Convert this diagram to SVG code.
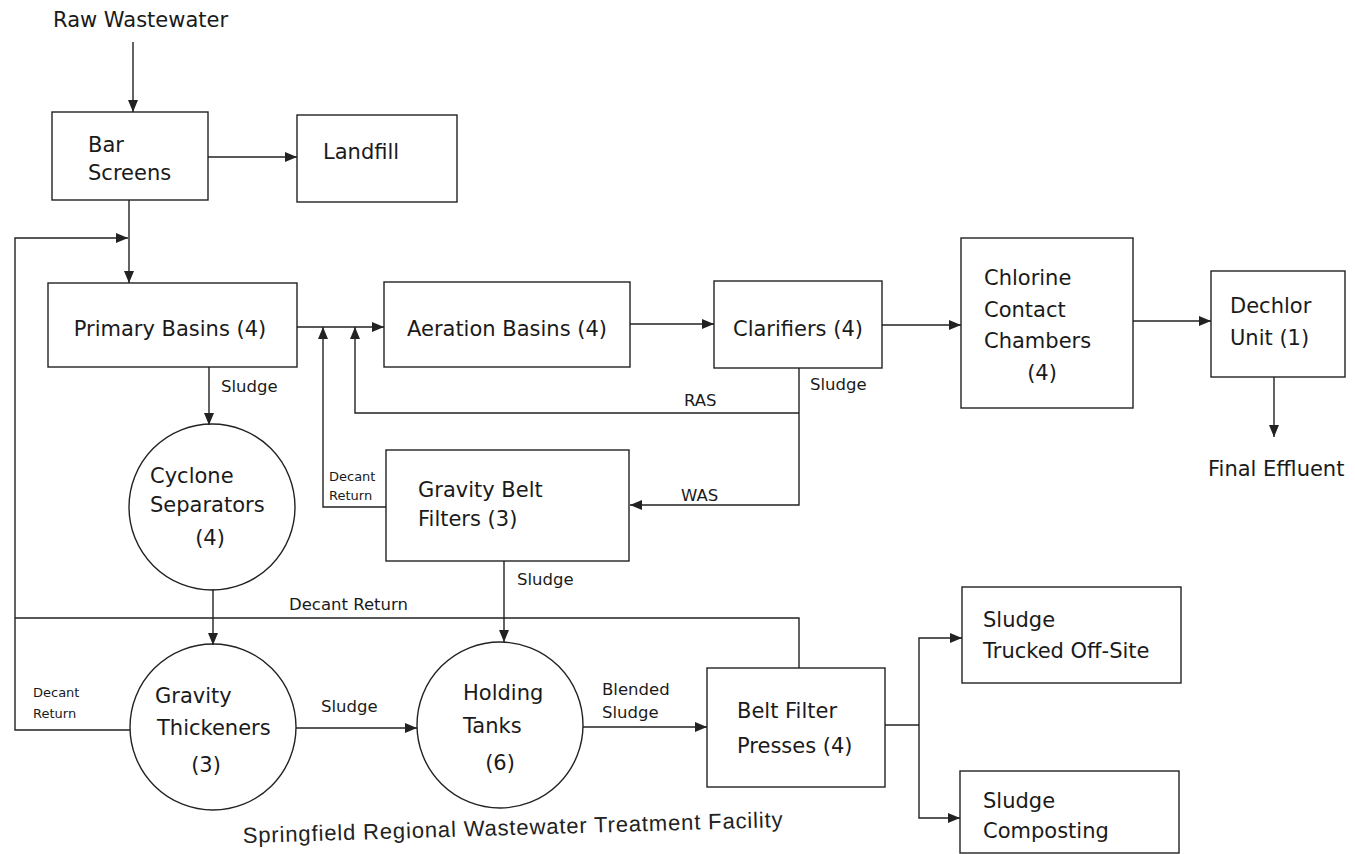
<svg xmlns="http://www.w3.org/2000/svg" width="1355" height="854" viewBox="0 0 1355 854">
<style>
.box{fill:none;stroke:#222;stroke-width:1.4}
.ln{fill:none;stroke:#222;stroke-width:1.4}
.t{font-family:"DejaVu Sans",sans-serif;font-size:21px;fill:#1a1a1a}
.s{font-family:"DejaVu Sans",sans-serif;font-size:16.5px;fill:#1a1a1a}
.xs{font-family:"DejaVu Sans",sans-serif;font-size:13px;fill:#1a1a1a}
.m{text-anchor:middle}
.hw{font-family:"Liberation Sans",sans-serif;font-size:22px;fill:#222}
</style>
<defs>
<marker id="ah" viewBox="0 0 12 10" refX="12" refY="5" markerWidth="12" markerHeight="10" markerUnits="userSpaceOnUse" orient="auto">
<path d="M0,0 L12,5 L0,10 z" fill="#222"/>
</marker>
</defs>
<rect width="1355" height="854" fill="#fff"/>
<g id="connectors">
<path class="ln" d="M133 42 V112" marker-end="url(#ah)"/>
<path class="ln" d="M208 157 H297" marker-end="url(#ah)"/>
<path class="ln" d="M129 200 V283" marker-end="url(#ah)"/>
<path class="ln" d="M130 730 H15 V238 H128" marker-end="url(#ah)"/>
<path class="ln" d="M799 668 V618 H15"/>
<path class="ln" d="M297 327 H384" marker-end="url(#ah)"/>
<path class="ln" d="M386 507 H323 V327" marker-end="url(#ah)"/>
<path class="ln" d="M799 413 H355 V327" marker-end="url(#ah)"/>
<path class="ln" d="M799 368 V505 H630" marker-end="url(#ah)"/>
<path class="ln" d="M630 324 H714" marker-end="url(#ah)"/>
<path class="ln" d="M882 325 H961" marker-end="url(#ah)"/>
<path class="ln" d="M1133 321 H1211" marker-end="url(#ah)"/>
<path class="ln" d="M1274 377 V437" marker-end="url(#ah)"/>
<path class="ln" d="M209 367 V425" marker-end="url(#ah)"/>
<path class="ln" d="M213 589 V645" marker-end="url(#ah)"/>
<path class="ln" d="M296 728 H417" marker-end="url(#ah)"/>
<path class="ln" d="M504 561 V642" marker-end="url(#ah)"/>
<path class="ln" d="M583 727 H707" marker-end="url(#ah)"/>
<path class="ln" d="M885 725 H919"/>
<path class="ln" d="M919 725 V638 H962" marker-end="url(#ah)"/>
<path class="ln" d="M919 725 V818 H960" marker-end="url(#ah)"/>
<text class="s" x="221" y="392">Sludge</text>
<text class="s" x="684" y="406">RAS</text>
<text class="s" x="810" y="390">Sludge</text>
<text class="s" x="681" y="501">WAS</text>
<text class="xs" x="329" y="481">Decant</text>
<text class="xs" x="329" y="500">Return</text>
<text class="s" x="517" y="585">Sludge</text>
<text class="s" x="289" y="610">Decant Return</text>
<text class="xs" x="33" y="697">Decant</text>
<text class="xs" x="33" y="718">Return</text>
<text class="s" x="321" y="712">Sludge</text>
<text class="s" x="602" y="695">Blended</text>
<text class="s" x="602" y="718">Sludge</text>
</g>
<g id="raw-wastewater"><text class="t" x="53" y="27">Raw Wastewater</text></g>
<g id="bar-screens"><rect class="box" x="52" y="112" width="156" height="88"/><text class="t" x="88" y="152">Bar</text><text class="t" x="88" y="180">Screens</text></g>
<g id="landfill"><rect class="box" x="297" y="115" width="160" height="87"/><text class="t" x="323" y="159">Landfill</text></g>
<g id="primary-basins"><rect class="box" x="48" y="283" width="249" height="84"/><text class="t m" x="170" y="336">Primary Basins (4)</text></g>
<g id="aeration-basins"><rect class="box" x="384" y="282" width="246" height="85"/><text class="t m" x="507" y="336">Aeration Basins (4)</text></g>
<g id="clarifiers"><rect class="box" x="714" y="281" width="168" height="87"/><text class="t m" x="798" y="336">Clarifiers (4)</text></g>
<g id="chlorine-contact"><rect class="box" x="961" y="238" width="172" height="170"/><text class="t" x="984" y="285">Chlorine</text><text class="t" x="984" y="317">Contact</text><text class="t" x="984" y="348">Chambers</text><text class="t m" x="1042" y="380">(4)</text></g>
<g id="dechlor"><rect class="box" x="1211" y="271" width="134" height="106"/><text class="t" x="1230" y="313">Dechlor</text><text class="t" x="1230" y="345">Unit (1)</text></g>
<g id="final-effluent"><text class="t" x="1208" y="476">Final Effluent</text></g>
<g id="cyclone-separators"><circle class="box" cx="212" cy="507" r="83"/><text class="t" x="150" y="483">Cyclone</text><text class="t" x="150" y="512">Separators</text><text class="t m" x="210" y="545">(4)</text></g>
<g id="gravity-belt-filters"><rect class="box" x="386" y="450" width="243" height="111"/><text class="t" x="418" y="497">Gravity Belt</text><text class="t" x="418" y="526">Filters (3)</text></g>
<g id="gravity-thickeners"><circle class="box" cx="213" cy="727" r="83"/><text class="t" x="155" y="703">Gravity</text><text class="t" x="157" y="735">Thickeners</text><text class="t m" x="206" y="772">(3)</text></g>
<g id="holding-tanks"><circle class="box" cx="500" cy="725" r="83"/><text class="t" x="463" y="700">Holding</text><text class="t" x="463" y="733">Tanks</text><text class="t m" x="500" y="770">(6)</text></g>
<g id="belt-filter-presses"><rect class="box" x="707" y="668" width="178" height="119"/><text class="t" x="737" y="718">Belt Filter</text><text class="t" x="737" y="753">Presses (4)</text></g>
<g id="sludge-trucked"><rect class="box" x="962" y="587" width="219" height="96"/><text class="t" x="983" y="627">Sludge</text><text class="t" x="983" y="658">Trucked Off-Site</text></g>
<g id="sludge-composting"><rect class="box" x="960" y="771" width="219" height="82"/><text class="t" x="983" y="808">Sludge</text><text class="t" x="983" y="838">Composting</text></g>
<g id="title"><text class="hw" x="243" y="843" textLength="540" transform="rotate(-1.7 243 843)">Springfield Regional Wastewater Treatment Facility</text></g>
</svg>
